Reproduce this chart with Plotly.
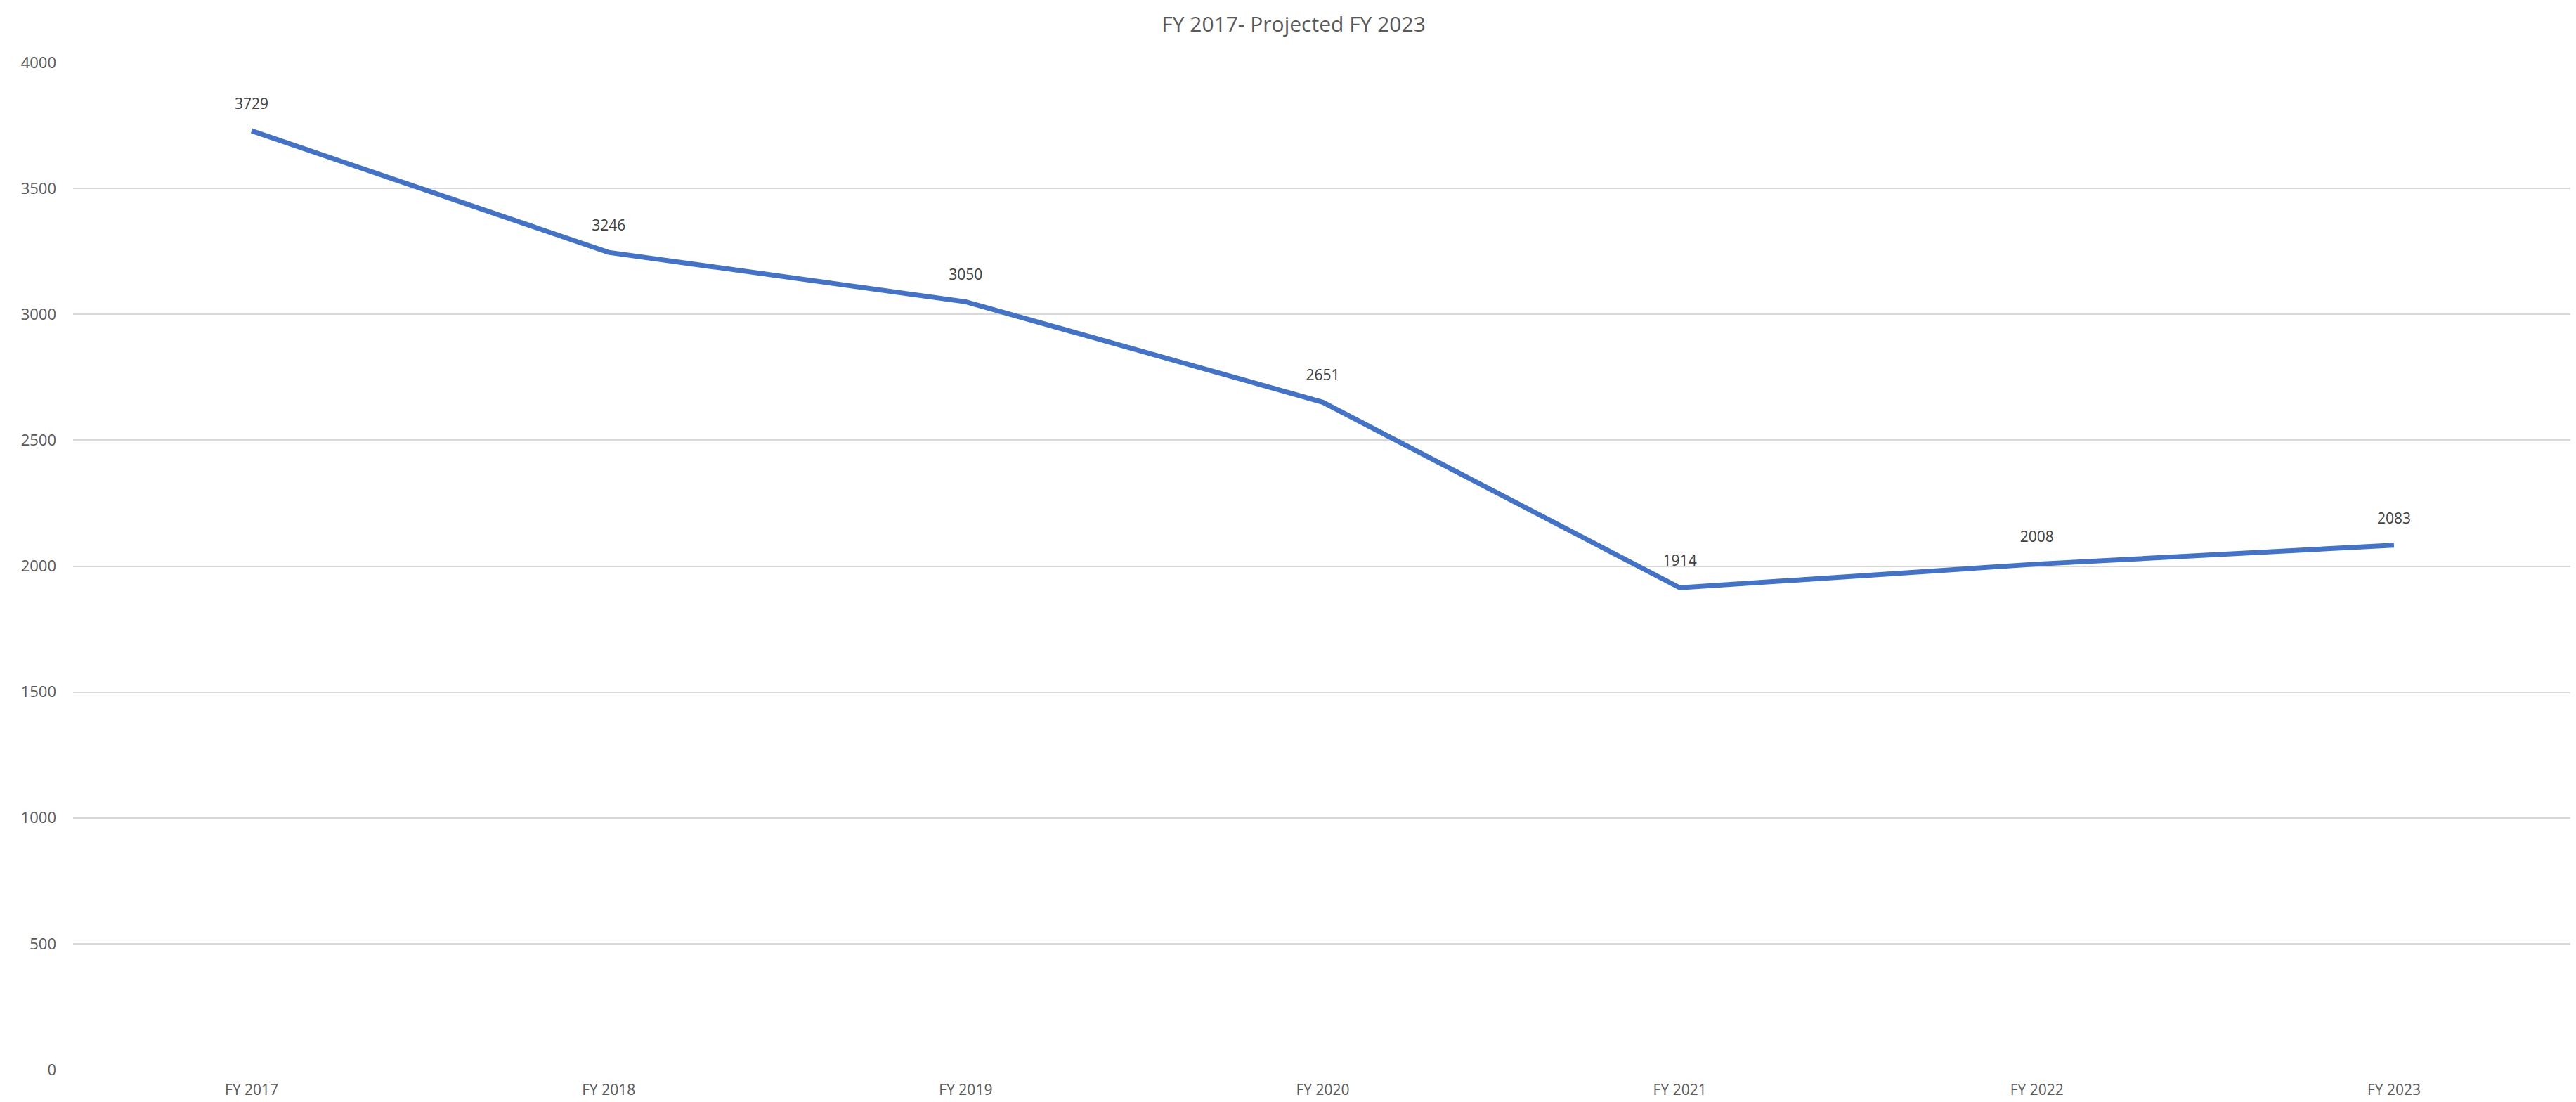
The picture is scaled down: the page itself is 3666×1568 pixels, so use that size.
import plotly.graph_objects as go

categories = ["FY 2017", "FY 2018", "FY 2019", "FY 2020", "FY 2021", "FY 2022", "FY 2023"]
values = [3729, 3246, 3050, 2651, 1914, 2008, 2083]
y_ticks = [0, 500, 1000, 1500, 2000, 2500, 3000, 3500, 4000]
title_text = "FY 2017- Projected FY 2023"

FONT = "Open Sans, Noto Sans, sans-serif"

fig = go.Figure()
fig.add_trace(go.Scatter(
    x=categories,
    y=values,
    mode="lines+markers+text",
    text=[str(v) for v in values],
    textposition="top center",
    textfont=dict(family=FONT, size=21, color="#404040"),
    line=dict(color="#4472C4", width=7),
    marker=dict(size=40, color="rgba(0,0,0,0)", line=dict(width=0)),
    hoverinfo="skip",
    cliponaxis=False,
))

fig.update_layout(
    width=3666,
    height=1568,
    paper_bgcolor="white",
    plot_bgcolor="white",
    margin=dict(l=96, r=13, t=81, b=45),
    showlegend=False,
    title=dict(
        text=title_text,
        x=0.5,
        xanchor="center",
        y=1 - 26 / 1568,
        yanchor="middle",
        font=dict(family=FONT, size=30, color="#595959"),
    ),
    xaxis=dict(
        type="category",
        range=[-0.5, 6.5],
        showgrid=False,
        zeroline=False,
        showline=False,
        ticks="",
        tickfont=dict(family=FONT, size=21, color="#595959"),
        ticklabelstandoff=14,
    ),
    yaxis=dict(
        range=[0, 4000],
        tickvals=y_ticks,
        ticktext=[str(t) for t in y_ticks],
        showgrid=True,
        gridcolor="#D9D9D9",
        gridwidth=2,
        zeroline=False,
        showline=False,
        ticks="",
        tickfont=dict(family=FONT, size=22, color="#595959"),
        ticklabelstandoff=23,
    ),
)

fig.write_html("out.html")
